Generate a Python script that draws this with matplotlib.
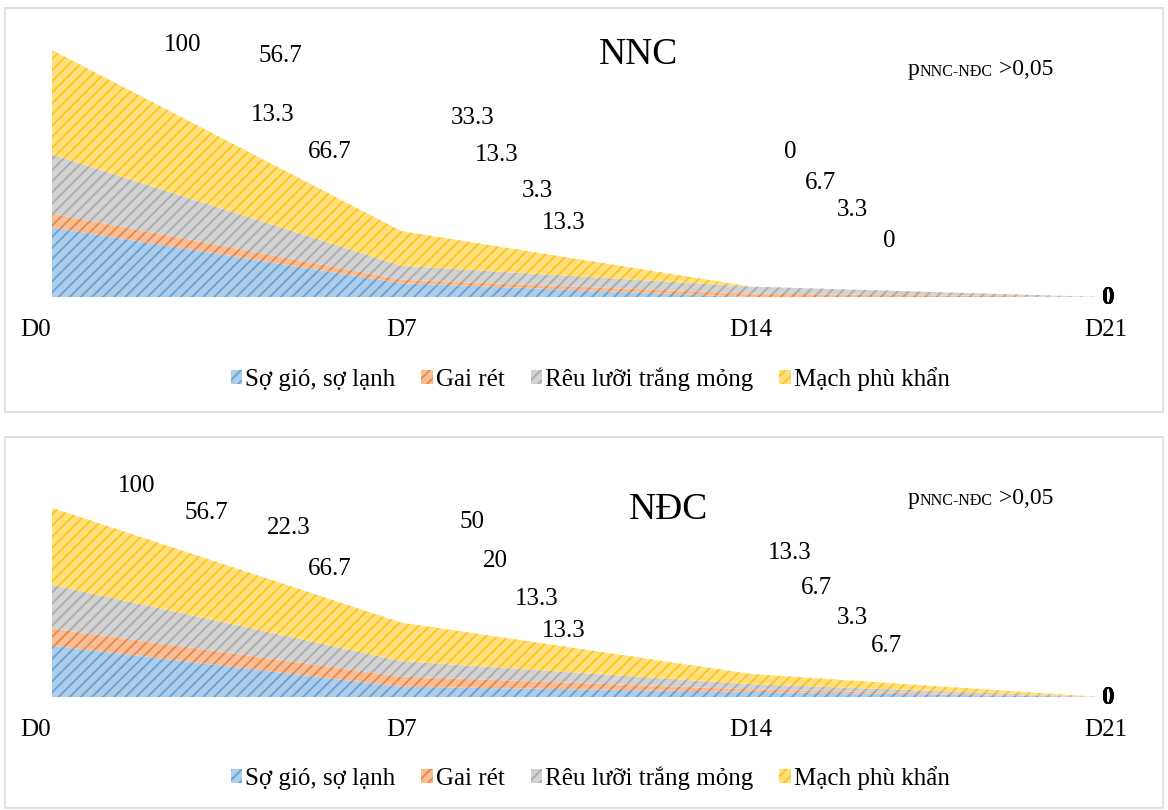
import numpy as np
import matplotlib
matplotlib.use("Agg")
import matplotlib.pyplot as plt
import matplotlib.transforms as mtrans
from matplotlib.patches import Patch, Rectangle
from matplotlib.colors import to_rgb

plt.rcParams['font.family'] = ['Liberation Serif', 'DejaVu Serif']
plt.rcParams['hatch.linewidth'] = 1.3

# ---- DATA ----
days = [0, 7, 14, 21]
day_labels = ["D0", "D7", "D14", "D21"]
series_names = ["Sợ gió, sợ lạnh", "Gai rét", "Rêu lưỡi trắng mỏng", "Mạch phù khẩn"]

nnc_so_gio = [66.7, 13.3, 0, 0]
nnc_gai_ret = [13.3, 3.3, 3.3, 0]
nnc_reu_luoi = [56.7, 13.3, 6.7, 0]
nnc_mach = [100, 33.3, 0, 0]

ndc_so_gio = [66.7, 13.3, 6.7, 0]
ndc_gai_ret = [22.3, 13.3, 3.3, 0]
ndc_reu_luoi = [56.7, 20, 6.7, 0]
ndc_mach = [100, 50, 13.3, 0]

colors = ["#5B9BD5", "#ED7D31", "#A5A5A5", "#FFC000"]

# label positions in pixels (Excel left them scattered), order: mach, reu, gai, so gio
nnc_label_px = [
    [(183, 45), (280, 56), (273, 115), (330, 152)],
    [(473, 118), (497, 155), (537, 191), (564, 223)],
    [(790, 152), (820, 183), (852, 210), (889, 241)],
]
ndc_label_px = [
    [(137, 486), (206, 513), (289, 528), (330, 569)],
    [(472, 522), (495, 561), (537, 599), (564, 631)],
    [(790, 553), (817, 588), (852, 618), (887, 646)],
]

W, H = 1168, 810


def blend(c, k):
    r, g, b = to_rgb(c)
    return (r + (1 - r) * k, g + (1 - g) * k, b + (1 - b) * k)


def fmt(v):
    return f"{v:g}"


FACE_K, HATCH_K = 0.5, 0.08


def panel(fig, rect_px, ax_rect, title, title_px, p_px, legend_y, data, label_px):
    x0, y0, x1, y1 = rect_px
    fig.patches.append(Rectangle((x0 / W, 1 - y1 / H), (x1 - x0) / W, (y1 - y0) / H,
                                 transform=fig.transFigure, fill=False,
                                 edgecolor="#d9d9d9", lw=1.2))
    ax = fig.add_axes(ax_rect)
    base = np.zeros(len(days))
    for vals, c in zip(data, colors):
        top = base + np.array(vals)
        ax.fill_between(days, base, top, facecolor=blend(c, FACE_K),
                        edgecolor=blend(c, HATCH_K), hatch="///", lw=0)
        base = top
    ax.set_xlim(0, 21)
    ax.set_ylim(0, 250)
    ax.set_yticks([])
    ax.set_xticks(days)
    ax.set_xticklabels(day_labels, fontsize=18)
    ax.tick_params(axis="x", length=0, pad=16)
    for s in ax.spines.values():
        s.set_visible(False)
    # D0 label sits a bit left in the original
    lbl = ax.get_xticklabels()[0]
    lbl.set_transform(lbl.get_transform() + mtrans.ScaledTranslation(-16 / 100, 0, fig.dpi_scale_trans))
    lbl = ax.get_xticklabels()[3]
    lbl.set_transform(lbl.get_transform() + mtrans.ScaledTranslation(6 / 100, 0, fig.dpi_scale_trans))

    fig.text(title_px[0] / W, 1 - title_px[1] / H, title, fontsize=27,
             ha="center", va="center")

    t1 = fig.text(p_px[0] / W, 1 - p_px[1] / H, "p", fontsize=17, ha="left", va="baseline")
    a2 = ax.annotate("NNC-NĐC", xy=(1.0, 0.0), xycoords=t1, fontsize=11.5,
                     ha="left", va="bottom")
    ax.annotate(" >0,05", xy=(1.0, 0.0), xycoords=(a2, t1), fontsize=17,
                ha="left", va="bottom")

    # data labels: top series first
    for j in range(3):
        for k, si in enumerate([3, 2, 1, 0]):
            px, py = label_px[j][k]
            fig.text(px / W, 1 - py / H, fmt(data[si][j]), fontsize=18,
                     ha="center", va="center")
    for si in range(4):
        ax.annotate(fmt(data[si][3]), xy=(21, 0), xytext=(8, 0),
                    textcoords="offset pixels", fontsize=18, fontweight="bold",
                    ha="center", va="center", annotation_clip=False)

    handles = [Patch(facecolor=blend(c, FACE_K), edgecolor=blend(c, HATCH_K), hatch="///", lw=0)
               for c in colors]
    fig.legend(handles, series_names, loc="center", ncol=4,
               bbox_to_anchor=(590 / W, 1 - legend_y / H), frameon=False,
               fontsize=18, handlelength=0.45, handleheight=0.45,
               handletextpad=0.12, columnspacing=1.05)
    return ax


fig = plt.figure(figsize=(W / 100, H / 100), dpi=100)

panel(fig, (5, 8, 1163, 412),
      [52 / W, (H - 297) / H, 1048 / W, 250 * 1.043 / H],
      "NNC", (638, 55), (908, 75), 379,
      [nnc_so_gio, nnc_gai_ret, nnc_reu_luoi, nnc_mach], nnc_label_px)

panel(fig, (5, 437, 1163, 808),
      [52 / W, (H - 697) / H, 1048 / W, 250 * 0.77 / H],
      "NĐC", (668, 510), (908, 504), 778,
      [ndc_so_gio, ndc_gai_ret, ndc_reu_luoi, ndc_mach], ndc_label_px)

fig.savefig("out.png", dpi=100)
